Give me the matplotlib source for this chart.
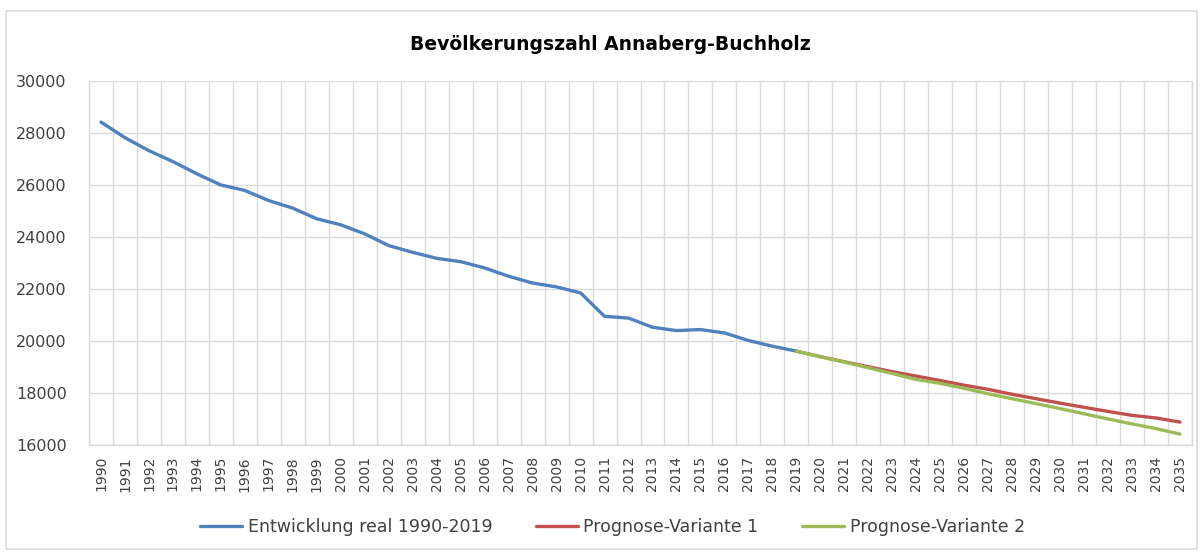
import matplotlib
matplotlib.use("Agg")
import matplotlib.pyplot as plt
from matplotlib.patches import Rectangle

# ---------------------------------------------------------------------------
# Data
# ---------------------------------------------------------------------------
years = list(range(1990, 2036))

real_years = list(range(1990, 2020))
real_values = [28420, 27820, 27320, 26900, 26430, 26000, 25790, 25400, 25110, 24700,
               24470, 24120, 23670, 23410, 23180, 23050, 22810, 22490, 22230, 22080,
               21850, 20950, 20880, 20530, 20400, 20440, 20310, 20020, 19800, 19610]

prog_years = list(range(2019, 2036))
prog1_values = [19610, 19400, 19200, 19010, 18820, 18650, 18480, 18300, 18140, 17950,
                17780, 17610, 17450, 17290, 17140, 17040, 16880]
prog2_values = [19610, 19390, 19190, 18970, 18750, 18520, 18370, 18180, 17970, 17780,
                17590, 17400, 17200, 17000, 16810, 16630, 16420]

series_labels = ["Entwicklung real 1990-2019", "Prognose-Variante 1", "Prognose-Variante 2"]
series_colours = ["#4F81BD", "#C0504D", "#9BBB59"]

y_ticks = list(range(16000, 30001, 2000))

# ---------------------------------------------------------------------------
# Figure
# ---------------------------------------------------------------------------
plt.rcParams["font.family"] = ["DejaVu Sans"]

W, H = 1203, 553
fig = plt.figure(figsize=(W / 100, H / 100), dpi=100)

# chart-area border
fig.patches.append(Rectangle((6 / W, 1 - 549 / H), (1197 - 6) / W, (549 - 11) / H,
                             transform=fig.transFigure, fill=False,
                             edgecolor="#D9D9D9", linewidth=1.2, zorder=0))

left, right, top, bottom = 89, 1192, 81, 445
ax = fig.add_axes([left / W, 1 - bottom / H, (right - left) / W, (bottom - top) / H])

idx = {y: i for i, y in enumerate(years)}
x_real = [idx[y] for y in real_years]
x_prog = [idx[y] for y in prog_years]

l1, = ax.plot(x_real, real_values, color=series_colours[0], lw=2.4,
              solid_capstyle="round", zorder=3)
l2, = ax.plot(x_prog, prog1_values, color=series_colours[1], lw=2.4,
              solid_capstyle="round", zorder=3)
l3, = ax.plot(x_prog, prog2_values, color=series_colours[2], lw=2.4,
              solid_capstyle="round", zorder=4)

ax.set_xlim(-0.5, len(years) - 0.5)
ax.set_ylim(16000, 30000)

ax.set_xticks(range(len(years)))
ax.set_xticklabels([str(y) for y in years], rotation=90, fontsize=10, color="#404040")
ax.set_xticks([i + 0.5 for i in range(-1, len(years))], minor=True)
ax.set_yticks(y_ticks)
ax.set_yticklabels([str(v) for v in y_ticks], fontsize=11.5, color="#404040")
ax.tick_params(axis="both", which="both", length=0)
ax.tick_params(axis="x", pad=8)
ax.tick_params(axis="y", pad=16)

ax.grid(True, which="minor", axis="x", color="#D9D9D9", lw=1.0)
ax.grid(True, which="major", axis="y", color="#D9D9D9", lw=1.0)
ax.set_axisbelow(True)
for s in ax.spines.values():
    s.set_color("#D9D9D9")
    s.set_linewidth(1.0)
ax.spines["top"].set_visible(False)

fig.text(610 / W, 1 - 44 / H, "Bevölkerungszahl Annaberg-Buchholz",
         ha="center", va="center", fontsize=13.5, fontweight="bold", color="#000000")

fig.legend([l1, l2, l3], series_labels, loc="center", ncol=3,
           bbox_to_anchor=(0.509, 1 - 527 / H), frameon=False, fontsize=12.5,
           handlelength=2.45, handletextpad=0.3, columnspacing=2.5,
           labelcolor="#404040")

fig.savefig("out.png", dpi=100)
